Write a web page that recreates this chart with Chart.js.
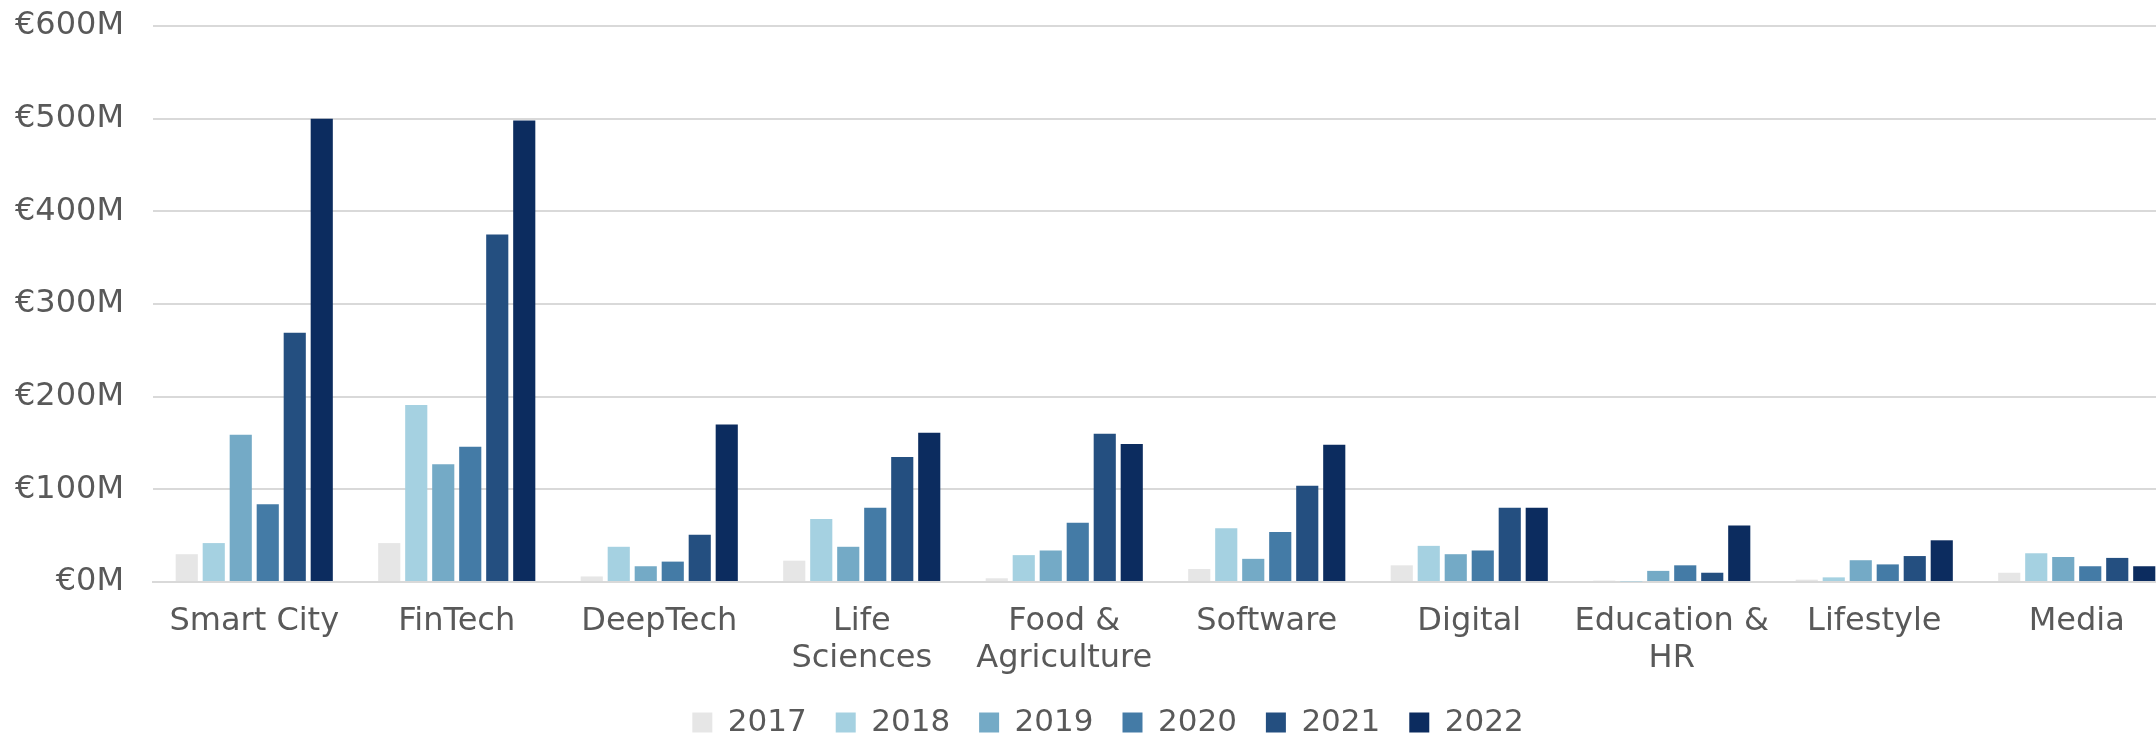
<!DOCTYPE html>
<html>
<head>
<meta charset="utf-8">
<script src="https://cdn.jsdelivr.net/npm/chart.js@4/dist/chart.umd.min.js"></script>
<style>
  html, body { margin: 0; padding: 0; background: #fff; overflow: hidden; }
  #wrap { width: 2178px; height: 736px; }
</style>
</head>
<body>
<div id="wrap"><canvas id="grafico" width="2178" height="736"></canvas></div>
<script>
// categorias y valores (millones de euros)
const categorias = ["Smart City", "FinTech", "DeepTech", ["Life", "Sciences"], ["Food &", "Agriculture"],
  "Software", "Digital", ["Education &", "HR"], "Lifestyle", "Media"];
const anios = ["2017", "2018", "2019", "2020", "2021", "2022"];
const colores = ["#e6e6e6", "#a5d1e1", "#74aac6", "#447ba6", "#244f80", "#0c2c5f"];

const v2017 = [30, 42, 6, 23, 4, 14, 18, 1.5, 2.5, 10];
const v2018 = [42, 191, 38, 68, 29, 58, 39, 0.5, 5, 31];
const v2019 = [159, 127, 17, 38, 34, 25, 30, 12, 23.5, 27];
const v2020 = [84, 146, 22, 80, 64, 54, 34, 18, 19, 17];
const v2021 = [269, 375, 51, 135, 160, 104, 80, 10, 28, 26];
const v2022 = [500, 498, 170, 161, 149, 148, 80, 61, 45, 17];
const series = [v2017, v2018, v2019, v2020, v2021, v2022];

const ticksY = [0, 100, 200, 300, 400, 500, 600];

const gris = "#595959";
const fuente = "'DejaVu Sans', sans-serif";

// mueve la leyenda un poco a la derecha
const moverLeyenda = {
  id: "moverLeyenda",
  afterLayout(chart) {
    chart.legend.left += 19;
    chart.legend.right += 19;
  }
};

const datasets = series.map((valores, i) => ({
  label: anios[i],
  data: valores,
  backgroundColor: colores[i],
  borderWidth: 0,
  barPercentage: 0.82,
  categoryPercentage: 0.8
}));

const ctx = document.getElementById("grafico").getContext("2d");
const grafico = new Chart(ctx, {
  type: "bar",
  data: { labels: categorias, datasets: datasets },
  plugins: [moverLeyenda],
  options: {
    responsive: false,
    devicePixelRatio: 1,
    animation: false,
    layout: { padding: { top: 26, right: 0, bottom: -12, left: 0 } },
    plugins: {
      tooltip: { enabled: false },
      legend: {
        position: "bottom",
        labels: {
          boxWidth: 20,
          boxHeight: 20,
          padding: 29,
          color: gris,
          font: { family: fuente, size: 31 }
        }
      }
    },
    scales: {
      x: {
        grid: { display: false, drawTicks: false },
        border: { display: true, color: "#d9d9d9", width: 2 },
        ticks: {
          color: gris,
          padding: 21,
          maxRotation: 0,
          autoSkip: false,
          font: { family: fuente, size: 32, lineHeight: 1.16 }
        },
        afterFit(scale) { scale.height = 96; }
      },
      y: {
        min: 0,
        max: 600,
        afterBuildTicks(scale) { scale.ticks = ticksY.map(v => ({ value: v })); },
        grid: { color: "#d9d9d9", lineWidth: 2, drawTicks: false },
        border: { display: false },
        ticks: {
          color: gris,
          padding: 29,
          font: { family: fuente, size: 32 },
          callback: v => "€" + v + "M"
        },
        afterFit(scale) {
          scale.width = 153;
          scale.paddingTop = 0;
          scale.paddingBottom = 0;
        }
      }
    }
  }
});
</script>
</body>
</html>
